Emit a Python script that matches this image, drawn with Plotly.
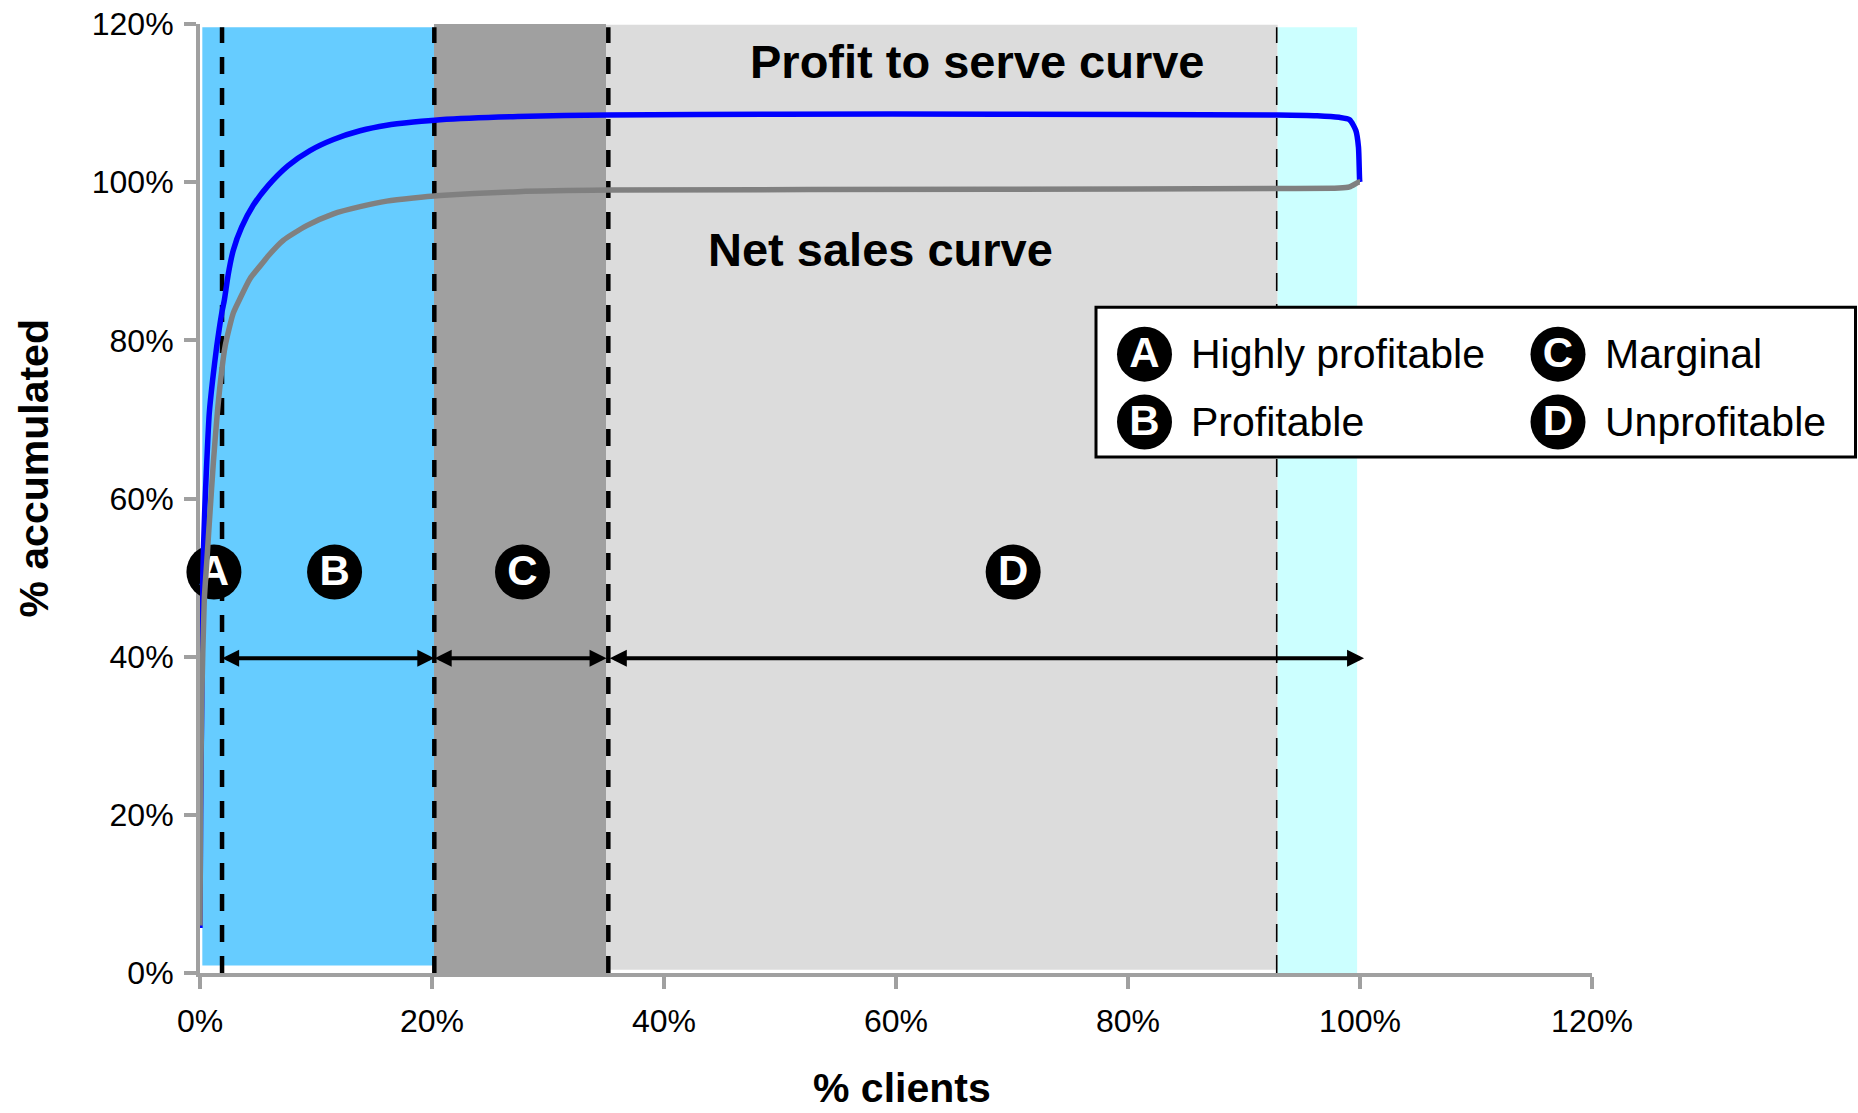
import plotly.graph_objects as go

# ---- data (percent) ----
profit_x = [0, 0.05, 0.15, 0.23, 0.4, 0.58, 0.8, 1.09, 1.44, 1.87, 2.1, 2.44, 2.87, 3.59, 4.6, 5.89, 7.6, 9.48, 11.5,
            13.8, 16.1, 18.4, 20.7, 27.4, 35.1, 50, 69, 92.9, 96.3, 98.2, 99.1, 99.65, 99.87, 99.97, 100]
profit_y = [5.7, 20, 34.5, 49.7, 58.2, 64.5, 70.8, 75, 79.2, 83.4, 85.1, 88.4, 91.4, 94.3, 97.1, 99.6, 102.1, 104, 105.4,
            106.5, 107.2, 107.6, 107.9, 108.3, 108.5, 108.6, 108.6, 108.5, 108.4, 108.2, 107.9, 106.5, 104.4, 100.2, 100]
sales_x = [0, 0.05, 0.15, 0.37, 0.58, 0.86, 1.15, 1.44, 1.78, 2.16, 2.86, 3.39, 4.31, 5.46, 5.89, 7.18, 9.2, 11.5,
           13.8, 16.1, 18.4, 20.7, 27.4, 35.1, 69, 92.9, 98.2, 99.1, 99.87, 100]
sales_y = [6, 20, 34.5, 47.2, 51.9, 58.2, 64.5, 69.9, 75, 79.2, 83.4, 85.1, 87.8, 89.9, 90.7, 92.65, 94.5, 96,
           96.9, 97.6, 98, 98.3, 98.8, 99, 99.1, 99.2, 99.25, 99.4, 100, 100]

region_x0 = [0.2, 20.17, 35.0, 92.9]
region_x1 = [20.17, 35.0, 92.9, 99.75]
region_y0 = [0.95, 0, 0.4, 0]
region_y1 = [119.6, 120, 119.9, 119.6]
region_colors = ["#66CCFF", "#A0A0A0", "#DCDCDC", "#CCFFFF"]

dash_x = [1.9, 20.2, 35.2]
thin_dash_x = [92.82]

segment_letters = ["A", "B", "C", "D"]
segment_x = [1.2, 11.6, 27.8, 70.1]
segment_y = [50.7, 50.7, 50.7, 50.7]

arrow_from = [1.78, 20.1, 35.2]
arrow_to = [20.2, 35.05, 100.35]
arrow_y = 39.8

legend_labels = ["Highly profitable", "Profitable", "Marginal", "Unprofitable"]
tick_vals = [0, 20, 40, 60, 80, 100, 120]
tick_text = ["0%", "20%", "40%", "60%", "80%", "100%", "120%"]

# ---- layout geometry ----
W, H = 1858, 1113
L, R, T, B = 200, 1592, 23.5, 973.5
FONT = "Liberation Sans"


def px_x(p):
    return (p - L) / (R - L)


def px_y(p):
    return (B - p) / (B - T)


def dx(p):
    return (p - L) / (R - L) * 120


def dy(p):
    return (B - p) / (B - T) * 120


LETTER_DROP = 2.5 / (B - T) * 120  # letters sit a little below the badge centre

fig = go.Figure()

# letter badges (under the curves)
fig.add_trace(go.Scatter(
    x=segment_x, y=segment_y, mode="markers", marker=dict(color="black", size=55, line=dict(width=0)),
    cliponaxis=False, showlegend=False, hoverinfo="skip"))
fig.add_trace(go.Scatter(
    x=segment_x, y=[v - LETTER_DROP for v in segment_y], mode="text", text=segment_letters,
    textposition="middle center", textfont=dict(family=FONT, size=42, color="white", weight="bold"),
    cliponaxis=False, showlegend=False, hoverinfo="skip"))

# curves
fig.add_trace(go.Scatter(x=profit_x, y=profit_y, mode="lines",
                         line=dict(color="#0000FF", width=5.5, shape="spline", smoothing=0.6),
                         cliponaxis=False, showlegend=False, name="Profit to serve curve"))
fig.add_trace(go.Scatter(x=sales_x, y=sales_y, mode="lines",
                         line=dict(color="#808080", width=5.5, shape="spline", smoothing=0.6),
                         cliponaxis=False, showlegend=False, name="Net sales curve"))

# legend box background (the part over the plot area) and badges
bx0, bx1, by0, by1 = dx(1096), dx(1855.5), dy(457), dy(307)
fig.add_trace(go.Scatter(
    x=[bx0, bx1, bx1, bx0, bx0], y=[by0, by0, by1, by1, by0], mode="lines", fill="toself",
    fillcolor="white", line=dict(width=0), showlegend=False, hoverinfo="skip"))
badge_x = [dx(1144.5), dx(1144.5), dx(1558), dx(1558)]
badge_y = [dy(354), dy(422), dy(354), dy(422)]
fig.add_trace(go.Scatter(
    x=badge_x, y=badge_y, mode="markers", marker=dict(color="black", size=55, line=dict(width=0)),
    cliponaxis=False, showlegend=False, hoverinfo="skip"))
fig.add_trace(go.Scatter(
    x=badge_x, y=[v - LETTER_DROP for v in badge_y], mode="text", text=segment_letters,
    textposition="middle center", textfont=dict(family=FONT, size=42, color="white", weight="bold"),
    cliponaxis=False, showlegend=False, hoverinfo="skip"))

shapes = []
for x0, x1, y0, y1, c in zip(region_x0, region_x1, region_y0, region_y1, region_colors):
    shapes.append(dict(type="rect", xref="x", yref="y", x0=x0, x1=x1, y0=y0, y1=y1,
                       fillcolor=c, line=dict(width=0), layer="below"))
for x in dash_x:
    shapes.append(dict(type="line", xref="x", yref="y", x0=x, x1=x, y0=0, y1=119.6, layer="below",
                       line=dict(color="black", width=4.5, dash="17px,14px")))
for x in thin_dash_x:
    shapes.append(dict(type="line", xref="x", yref="y", x0=x, x1=x, y0=0, y1=119.6, layer="below",
                       line=dict(color="black", width=1.6, dash="18px,13px")))
# legend border
shapes.append(dict(type="rect", xref="paper", yref="paper", x0=px_x(1096), x1=px_x(1855.5),
                   y0=px_y(457), y1=px_y(307), line=dict(color="black", width=3),
                   fillcolor="rgba(0,0,0,0)", layer="above"))

annotations = []
for a, b in zip(arrow_from, arrow_to):
    annotations.append(dict(x=b, y=arrow_y, ax=a, ay=arrow_y, xref="x", yref="y", axref="x", ayref="y",
                            text="", showarrow=True, arrowcolor="black", arrowwidth=4,
                            arrowhead=2, startarrowhead=2, arrowside="end+start",
                            arrowsize=0.85, startarrowsize=0.85))


def label(text, xp, yp, size, bold=False, anchor="center", angle=0, height=None):
    annotations.append(dict(text=text, x=px_x(xp), y=px_y(yp), xref="paper", yref="paper", showarrow=False,
                            xanchor=anchor, yanchor="middle", textangle=angle, height=height,
                            font=dict(family=FONT, size=size, color="black", weight="bold" if bold else "normal")))


label("Profit to serve curve", 977, 61.5, 47, True)
label("Net sales curve", 880, 249, 47, True)
label("% clients", 901.5, 1089, 41, True)
label("% accumulated", 34, 468.5, 41, True, angle=-90)
label(legend_labels[0], 1189, 354, 41, anchor="left")
label(legend_labels[1], 1189, 422, 41, anchor="left")
label(legend_labels[2], 1603, 354, 41, anchor="left")
label(legend_labels[3], 1603, 422, 41, anchor="left")

axis = dict(range=[0, 120], tickvals=tick_vals, ticktext=tick_text, showgrid=False, zeroline=False,
            showline=True, linecolor="#A0A0A0", linewidth=4, ticks="outside", ticklen=12, tickwidth=4,
            tickcolor="#A0A0A0", tickfont=dict(family=FONT, size=32, color="black"), layer="below traces")

fig.update_layout(
    width=W, height=H, margin=dict(l=L, r=W - R, t=T, b=H - B, pad=0, autoexpand=False),
    paper_bgcolor="white", plot_bgcolor="white", showlegend=False, shapes=shapes, annotations=annotations,
    xaxis=dict(axis, ticklabelstandoff=5), yaxis=dict(axis, ticklabelstandoff=4))

fig.write_html("out.html", config={"displayModeBar": False},
               post_script="document.body.style.margin='0';document.body.style.overflow='hidden';")
